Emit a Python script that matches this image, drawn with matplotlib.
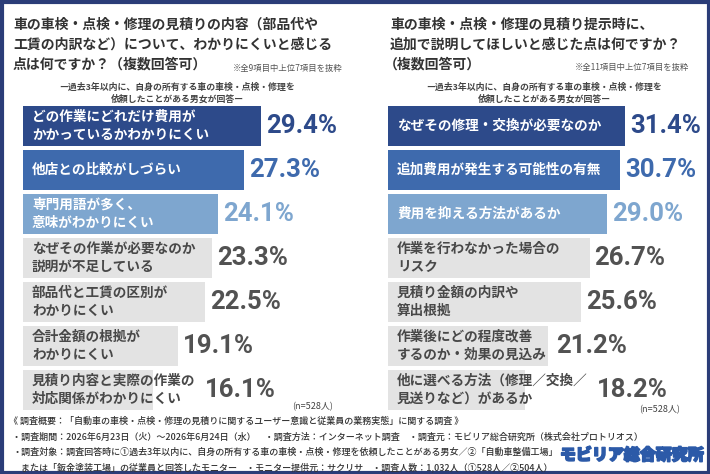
import matplotlib
matplotlib.use("Agg")
import matplotlib.pyplot as plt
from matplotlib.patches import Rectangle
import matplotlib.patheffects as pe

plt.rcParams['font.family'] = ['Noto Sans CJK JP', 'DejaVu Sans']

# ---------------- data ----------------
left_labels = [
    "どの作業にどれだけ費用が\nかかっているかわかりにくい",
    "他店との比較がしづらい",
    "専門用語が多く、\n意味がわかりにくい",
    "なぜその作業が必要なのか\n説明が不足している",
    "部品代と工賃の区別が\nわかりにくい",
    "合計金額の根拠が\nわかりにくい",
    "見積り内容と実際の作業の\n対応関係がわかりにくい",
]
left_values = [29.4, 27.3, 24.1, 23.3, 22.5, 19.1, 16.1]

right_labels = [
    "なぜその修理・交換が必要なのか",
    "追加費用が発生する可能性の有無",
    "費用を抑える方法があるか",
    "作業を行わなかった場合の\nリスク",
    "見積り金額の内訳や\n算出根拠",
    "作業後にどの程度改善\nするのか・効果の見込み",
    "他に選べる方法（修理／交換／\n見送りなど）があるか",
]
right_values = [31.4, 30.7, 29.0, 26.7, 25.6, 21.2, 18.2]

left_title = ["車の車検・点検・修理の見積りの内容（部品代や",
              "工賃の内訳など）について、わかりにくいと感じる",
              "点は何ですか？（複数回答可）"]
right_title = ["車の車検・点検・修理の見積り提示時に、",
               "追加で説明してほしいと感じた点は何ですか？",
               "（複数回答可）"]
left_note = "※全9項目中上位7項目を抜粋"
right_note = "※全11項目中上位7項目を抜粋"
subtitle = ["ー過去3年以内に、自身の所有する車の車検・点検・修理を",
            "依頼したことがある男女が回答ー"]
n_text = "(n=528人)"
footer = [
    "《 調査概要：「自動車の車検・点検・修理の見積りに関するユーザー意識と従業員の業務実態」に関する調査 》",
    "・調査期間：2026年6月23日（火）～2026年6月24日（水）　・調査方法：インターネット調査　・調査元：モビリア総合研究所（株式会社プロトリオス）",
    "・調査対象：調査回答時に①過去3年以内に、自身の所有する車の車検・点検・修理を依頼したことがある男女／②「自動車整備工場」",
    "　または「鈑金塗装工場」の従業員と回答したモニター　・モニター提供元：サクリサ　・調査人数：1,032人（①528人／②504人）",
]
logo = "モビリア総合研究所"

# ---------------- style ----------------
W, H = 710, 474
bar_colors = ["#2d4a8a", "#3e6aad", "#7ea6cf"] + ["#e3e3e3"] * 4
val_colors = ["#2d4a8a", "#3e6aad", "#7ea6cf"] + ["#525252"] * 4
lab_colors = ["white"] * 3 + ["#484848"] * 4
navy = "#2b3d78"
txt = "#333333"

fig = plt.figure(figsize=(W / 100, H / 100), dpi=100)
fig.patch.set_facecolor("white")
renderer = fig.canvas.get_renderer()

bg = fig.add_axes([0, 0, 1, 1])
bg.set_xlim(0, W)
bg.set_ylim(H, 0)
bg.axis("off")
bg.add_patch(Rectangle((1.5, 1.5), W - 3, H - 3, fill=False, edgecolor=navy, lw=3))


def panel(x0, scale, labels, values, width_px):
    top, bottom = 104, 412
    ax = fig.add_axes([x0 / W, 1 - bottom / H, width_px / W, (bottom - top) / H])
    ax.set_xlim(0, width_px / scale)
    ax.set_ylim(len(values) - 0.5, -0.5)
    ax.axis("off")
    ax.barh(range(len(values)), values, height=40 / 44, color=bar_colors, linewidth=0)
    for i, (lab, v) in enumerate(zip(labels, values)):
        t = ax.annotate(lab, xy=(0, i), xytext=(6.5, 0), textcoords="offset points",
                        ha="left", va="center", fontsize=9.8, fontweight="bold",
                        color=lab_colors[i], linespacing=1.4)
        lab_end = t.get_window_extent(renderer).x1
        bar_end = ax.transData.transform((v, i))[0]
        start = max(bar_end, lab_end + 4)
        off_px = start - bar_end + 5
        ax.annotate(f"{v:.1f}%", xy=(v, i), xytext=(off_px * 72 / 100, 0),
                    textcoords="offset points",
                    ha="left", va="center", fontsize=18.5, fontweight="bold",
                    color=val_colors[i], family=["Roboto", "DejaVu Sans"])
    return ax


panel(23, 8.1, left_labels, left_values, 330)
panel(388, 7.55, right_labels, right_values, 310)

# titles
for k, line in enumerate(left_title):
    bg.text(13, 25 + k * 19.5, line, ha="left", va="center", fontsize=10.0,
            fontweight="bold", color=txt)
for k, line in enumerate(right_title):
    bg.text(390 if k < 2 else 384, 25 + k * 19.5, line, ha="left", va="center",
            fontsize=10.0, fontweight="bold", color=txt)
bg.text(343, 68, left_note, ha="right", va="center", fontsize=6.0, color="#555555")
bg.text(689, 67, right_note, ha="right", va="center", fontsize=6.0, color="#555555")

for cx in (177, 544):
    for k, line in enumerate(subtitle):
        bg.text(cx, 87 + k * 12.5, line, ha="center", va="center", fontsize=6.4,
                fontweight="bold", color="#444444")

bg.text(333, 407, n_text, ha="right", va="center", fontsize=6.5, color="#444444")
bg.text(680, 410, n_text, ha="right", va="center", fontsize=6.5, color="#444444")

# footer
fy = [421, 437, 452, 467]
fx = [9, 12, 12, 12]
for x, y, line in zip(fx, fy, footer):
    bg.text(x, y, line, ha="left", va="center", fontsize=6.5, fontweight="medium",
            color="#333333")

bg.text(704, 455, logo, ha="right", va="center", fontsize=11.5, fontweight="black",
        color="#2c5aa8",
        path_effects=[pe.withStroke(linewidth=1.2, foreground="#2c5aa8")])

fig.savefig("out.png", dpi=100, facecolor="white")
